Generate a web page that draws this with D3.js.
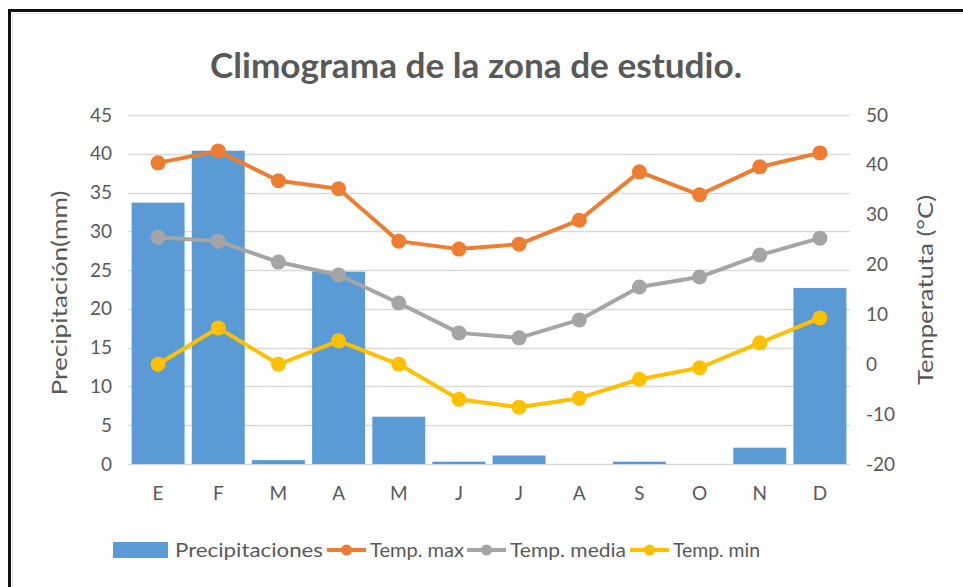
<!DOCTYPE html>
<html>
<head>
<meta charset="utf-8">
<script src="https://cdn.jsdelivr.net/npm/d3@7"></script>
<style>
  body { margin: 0; background: #fff; }
  text { font-family: Lato, "Open Sans", sans-serif; fill: #595959; }
</style>
</head>
<body>
<div id="chart"></div>
<script>
// data
var months = ["E", "F", "M", "A", "M", "J", "J", "A", "S", "O", "N", "D"];
var precip = [33.7, 40.4, 0.5, 24.8, 6.1, 0.3, 1.1, 0, 0.3, 0, 2.1, 22.7];
var tMax = [40.4, 42.8, 36.8, 35.2, 24.7, 23.1, 24.1, 28.9, 38.6, 34.0, 39.6, 42.4];
var tMedia = [25.5, 24.7, 20.5, 17.9, 12.3, 6.3, 5.3, 8.9, 15.5, 17.5, 21.9, 25.3];
var tMin = [0, 7.3, 0, 4.7, 0, -7.0, -8.6, -6.8, -3.0, -0.7, 4.3, 9.3];
var precipTicks = [0, 5, 10, 15, 20, 25, 30, 35, 40, 45];
var tempTicks = [-20, -10, 0, 10, 20, 30, 40, 50];

var W = 963, H = 587;
var plot = { left: 128, right: 850, top: 115, bottom: 464 };

var svg = d3.select("#chart").append("svg")
  .attr("width", W)
  .attr("height", H);

// frame (only top and left edges are visible in the crop)
svg.append("path")
  .attr("d", "M12.5," + H + " V13.5 H" + W)
  .attr("fill", "none")
  .attr("stroke", "#e4e4e4")
  .attr("stroke-width", 1);
svg.append("path")
  .attr("d", "M9.5," + H + " V10.5 H" + W)
  .attr("fill", "none")
  .attr("stroke", "#111")
  .attr("stroke-width", 3);

// scales
var x = d3.scaleBand()
  .domain(d3.range(months.length))
  .range([plot.left, plot.right])
  .paddingInner(0.12)
  .paddingOuter(0.06);

var yP = d3.scaleLinear().domain([0, 45]).range([plot.bottom, plot.top]);
var yT = d3.scaleLinear().domain([-20, 50]).range([plot.bottom, plot.top]);

// plain hyphen for negatives, like the original
var plain = function(d) { return String(d); };

// title
svg.append("text")
  .attr("x", 476)
  .attr("y", 78)
  .attr("text-anchor", "middle")
  .attr("textLength", 532)
  .attr("lengthAdjust", "spacingAndGlyphs")
  .style("font-size", "35px")
  .style("font-weight", "bold")
  .text("Climograma de la zona de estudio.");

// gridlines
svg.append("g")
  .selectAll("line")
  .data(precipTicks)
  .join("line")
  .attr("x1", plot.left)
  .attr("x2", plot.right)
  .attr("y1", function(d) { return Math.round(yP(d)) + 0.5; })
  .attr("y2", function(d) { return Math.round(yP(d)) + 0.5; })
  .attr("stroke", "#d9d9d9")
  .attr("stroke-width", 1.5);

// left axis
svg.append("g")
  .attr("transform", "translate(" + (plot.left - 16) + ",0)")
  .call(d3.axisLeft(yP).tickValues(precipTicks).tickFormat(plain).tickSize(0).tickPadding(0))
  .call(function(g) { g.select(".domain").remove(); })
  .selectAll("text")
  .style("font-size", "19px")
  .attr("font-family", null);

// right axis
svg.append("g")
  .attr("transform", "translate(" + (plot.right + 16) + ",0)")
  .call(d3.axisRight(yT).tickValues(tempTicks).tickFormat(plain).tickSize(0).tickPadding(0))
  .call(function(g) { g.select(".domain").remove(); })
  .selectAll("text")
  .style("font-size", "19px")
  .attr("font-family", null);

// bottom axis
svg.append("g")
  .attr("transform", "translate(0," + (plot.bottom + 22) + ")")
  .call(d3.axisBottom(x).tickFormat(function(i) { return months[i]; }).tickSize(0).tickPadding(0))
  .call(function(g) { g.select(".domain").remove(); })
  .selectAll("text")
  .attr("dy", "0.71em")
  .style("font-size", "19px")
  .attr("font-family", null);

// axis titles
svg.append("text")
  .attr("transform", "translate(67,293) rotate(-90)")
  .attr("text-anchor", "middle")
  .attr("textLength", 205)
  .attr("lengthAdjust", "spacingAndGlyphs")
  .style("font-size", "22px")
  .text("Precipitación(mm)");

svg.append("text")
  .attr("transform", "translate(933,290) rotate(-90)")
  .attr("text-anchor", "middle")
  .attr("textLength", 190)
  .attr("lengthAdjust", "spacingAndGlyphs")
  .style("font-size", "22px")
  .text("Temperatuta (°C)");

// bars
svg.append("g")
  .selectAll("rect")
  .data(precip)
  .join("rect")
  .attr("x", function(d, i) { return x(i); })
  .attr("width", x.bandwidth())
  .attr("y", function(d) { return yP(d); })
  .attr("height", function(d) { return yP(0) - yP(d); })
  .attr("fill", "#5b9bd5");

// lines
var series = [
  { name: "Temp. max", values: tMax, color: "#ed7d31" },
  { name: "Temp. media", values: tMedia, color: "#a5a5a5" },
  { name: "Temp. min", values: tMin, color: "#ffc000" }
];

var line = d3.line()
  .x(function(d, i) { return x(i) + x.bandwidth() / 2; })
  .y(function(d) { return yT(d); });

series.forEach(function(s) {
  var g = svg.append("g");
  g.append("path")
    .attr("d", line(s.values))
    .attr("fill", "none")
    .attr("stroke", s.color)
    .attr("stroke-width", 4)
    .attr("stroke-linejoin", "round");
  g.selectAll("circle")
    .data(s.values)
    .join("circle")
    .attr("cx", function(d, i) { return x(i) + x.bandwidth() / 2; })
    .attr("cy", function(d) { return yT(d); })
    .attr("r", 7.5)
    .attr("fill", s.color);
});

// legend
var legend = svg.append("g").attr("transform", "translate(0,550)");
legend.append("rect")
  .attr("x", 113).attr("y", -8)
  .attr("width", 55).attr("height", 16)
  .attr("fill", "#5b9bd5");
legend.append("text")
  .attr("x", 175).attr("y", 7)
  .attr("textLength", 148)
  .attr("lengthAdjust", "spacingAndGlyphs")
  .style("font-size", "20px")
  .text("Precipitaciones");

var legendPos = [
  { x0: 327, x1: 366, tx: 370, len: 94 },
  { x0: 467, x1: 506, tx: 510, len: 116 },
  { x0: 630, x1: 669, tx: 673, len: 87 }
];
series.forEach(function(s, i) {
  var p = legendPos[i];
  legend.append("line")
    .attr("x1", p.x0).attr("x2", p.x1)
    .attr("y1", 0).attr("y2", 0)
    .attr("stroke", s.color)
    .attr("stroke-width", 4);
  legend.append("circle")
    .attr("cx", (p.x0 + p.x1) / 2).attr("cy", 0)
    .attr("r", 5.5)
    .attr("fill", s.color);
  legend.append("text")
    .attr("x", p.tx).attr("y", 7)
    .attr("textLength", p.len)
    .attr("lengthAdjust", "spacingAndGlyphs")
    .style("font-size", "20px")
    .text(s.name);
});
</script>
</body>
</html>
